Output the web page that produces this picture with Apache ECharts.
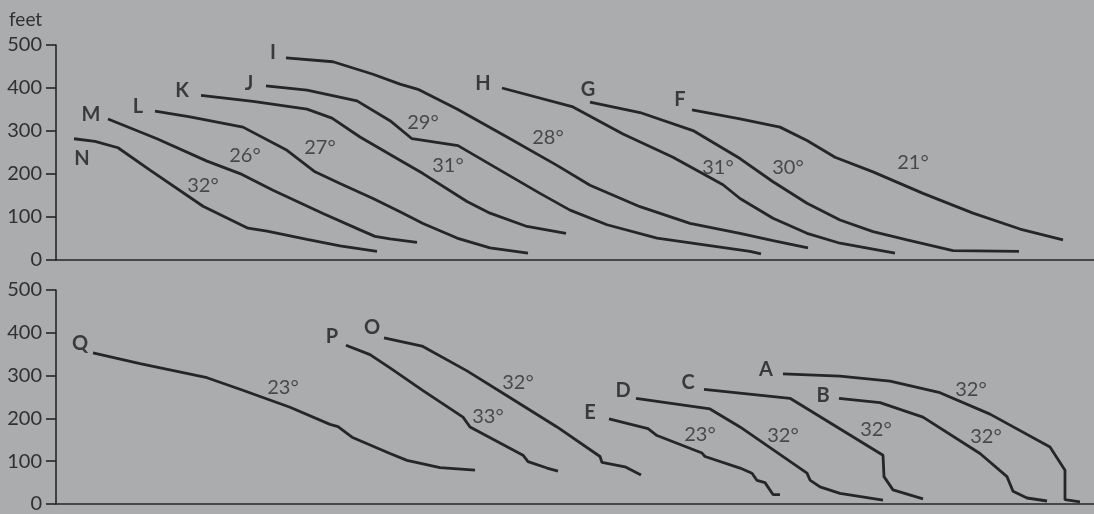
<!DOCTYPE html>
<html>
<head>
<meta charset="utf-8">
<script src="https://cdn.jsdelivr.net/npm/echarts@6/dist/echarts.min.js"></script>
<style>
  html, body { margin: 0; padding: 0; background: #abacae; }
  #chart { width: 1094px; height: 514px; }
</style>
</head>
<body>
<div id="chart"></div>
<script>
// horizontal distance (arbitrary units), height in feet
const yTicks = [0, 100, 200, 300, 400, 500];

// upper panel profiles
const profileF = [[636,349],[684,328],[724,309],[751,278],[779,239],[817,205],[867,155],[917,109],[964,72],[1007,47]];
const profileG = [[534,367],[584,343],[637,301],[684,236],[717,182],[751,132],[784,93],[817,66],[851,47],[897,22],[963,20]];
const profileH = [[446,400],[517,356],[567,293],[617,239],[667,175],[684,143],[717,97],[751,62],[784,39],[839,16]];
const profileI = [[230,470],[277,461],[317,432],[344,409],[362,397],[401,351],[451,286],[501,220],[534,174],[584,124],[634,85],[684,62],[717,45],[752,28]];
const profileJ = [[210,405],[251,395],[301,370],[334,324],[356,282],[402,266],[444,209],[484,155],[514,116],[551,82],[601,51],[694,20],[705,14]];
const profileK = [[145,383],[197,369],[251,351],[276,330],[304,286],[344,232],[367,201],[411,136],[434,109],[471,78],[510,62]];
const profileL = [[99,346],[134,333],[187,309],[231,255],[259,205],[284,178],[317,143],[344,112],[367,85],[401,51],[434,28],[472,16]];
const profileM = [[52,328],[101,282],[151,230],[184,201],[217,162],[267,108],[304,70],[319,55],[334,49],[361,41]];
const profileN = [[18,282],[39,276],[62,261],[94,209],[147,125],[192,74],[211,67],[251,48],[284,33],[321,20]];

// lower panel profiles
const profileA = [[727,304],[784,299],[834,287],[884,260],[934,210],[994,133],[1009,79],[1009,10],[1024,5]];
const profileB = [[783,247],[824,237],[867,203],[924,118],[951,64],[957,30],[971,14],[991,7]];
const profileC = [[648,268],[734,247],[827,114],[828,64],[837,33],[867,12]];
const profileD = [[580,247],[654,222],[684,180],[751,72],[754,56],[764,40],[784,25],[827,9]];
const profileE = [[553,199],[592,176],[601,160],[646,119],[649,111],[684,84],[696,72],[701,55],[709,50],[717,22],[724,22]];
const profileO = [[328,388],[366,369],[411,311],[451,253],[501,180],[544,111],[546,97],[569,87],[585,68]];
const profileP = [[290,371],[314,349],[334,318],[367,265],[407,203],[414,180],[467,114],[472,99],[491,84],[502,77]];
const profileQ = [[37,353],[84,328],[151,295],[184,268],[234,226],[274,186],[282,181],[296,156],[334,118],[351,102],[384,85],[419,79]];

// annotations: [x, feet, text]
const upperLetters = [[217,482,"I"],[193,410,"J"],[126,393,"K"],[82,356,"L"],[35,338,"M"],[26,236,"N"],[427,410,"H"],[532,397,"G"],[624,374,"F"]];
const upperAngles = [[147,174,"32°"],[189,243,"26°"],[264,261,"27°"],[367,320,"29°"],[392,220,"31°"],[492,284,"28°"],[662,216,"31°"],[732,216,"30°"],[857,226,"21°"]];
const lowerLetters = [[24,376,"Q"],[276,391,"P"],[316,412,"O"],[534,214,"E"],[567,264,"D"],[632,283,"C"],[710,314,"A"],[767,253,"B"]];
const lowerAngles = [[227,272,"23°"],[432,204,"33°"],[462,283,"32°"],[644,162,"23°"],[727,160,"32°"],[820,175,"32°"],[915,268,"32°"],[930,157,"32°"]];

const ink = "#262626";
const font = "Lato, 'Open Sans', sans-serif";

const upper = [profileF, profileG, profileH, profileI, profileJ, profileK, profileL, profileM, profileN];
const lower = [profileA, profileB, profileC, profileD, profileE, profileO, profileP, profileQ];

function profileSeries(data, panel) {
  return {
    type: "line", xAxisIndex: panel, yAxisIndex: panel, data: data,
    symbol: "none", silent: true,
    lineStyle: { color: ink, width: 2.8 }
  };
}

function textSeries(data, panel, bold) {
  return {
    type: "scatter", xAxisIndex: panel, yAxisIndex: panel, silent: true,
    symbolSize: 0,
    data: data.map(d => ({ value: [d[0], d[1]], name: d[2] })),
    label: {
      show: true, position: "inside", formatter: p => p.name,
      color: bold ? "#1e1e1e" : "#303030", fontFamily: font, fontSize: 20,
      fontWeight: bold ? "bold" : "normal"
    }
  };
}

function xAxis(panel) {
  return {
    type: "value", gridIndex: panel, min: 0, max: 1038,
    axisLine: { show: true, lineStyle: { color: ink, width: 1.6 } },
    axisTick: { show: false }, axisLabel: { show: false }, splitLine: { show: false }
  };
}

function yAxis(panel) {
  return {
    type: "value", gridIndex: panel, min: yTicks[0], max: yTicks[yTicks.length - 1], interval: 100,
    axisLine: { show: true, lineStyle: { color: ink, width: 1.6 } },
    axisTick: { show: true, length: 10, lineStyle: { color: ink, width: 1.6 } },
    axisLabel: { margin: 14, color: "#303030", fontFamily: font, fontSize: 20 },
    splitLine: { show: false }
  };
}

const chart = echarts.init(document.getElementById("chart"));
chart.setOption({
  backgroundColor: "#abacae",
  animation: false,
  title: {
    text: "feet", left: 4, top: 5,
    textStyle: { color: "#303030", fontFamily: font, fontSize: 19, fontWeight: "normal" }
  },
  grid: [
    { left: 56, right: 0, top: 45, height: 215 },
    { left: 56, right: 0, top: 290, height: 216 }
  ],
  xAxis: [xAxis(0), xAxis(1)],
  yAxis: [yAxis(0), yAxis(1)],
  series: [
    ...upper.map(d => profileSeries(d, 0)),
    ...lower.map(d => profileSeries(d, 1)),
    textSeries(upperLetters, 0, true),
    textSeries(upperAngles, 0, false),
    textSeries(lowerLetters, 1, true),
    textSeries(lowerAngles, 1, false)
  ]
});
</script>
</body>
</html>
